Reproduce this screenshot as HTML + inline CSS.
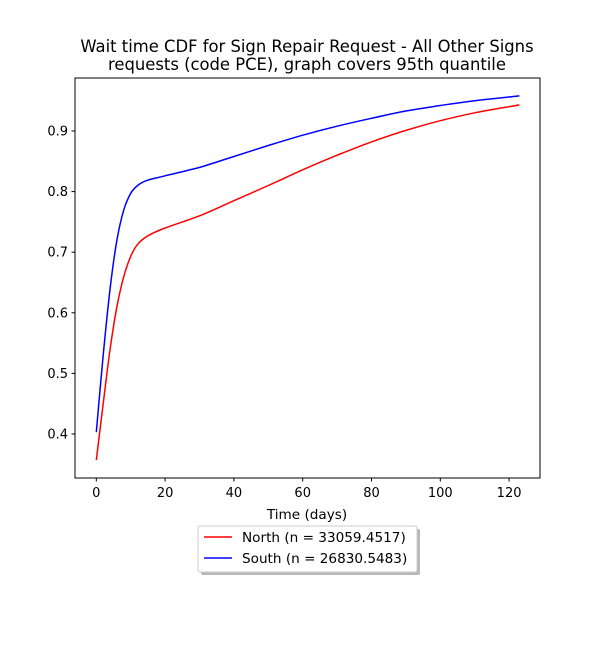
<!DOCTYPE html>
<html><head><meta charset="utf-8"><style>
body{margin:0;background:#fff;font-family:"Liberation Sans","DejaVu Sans",sans-serif}
</style></head><body>
<svg id="chart" width="600" height="650" xmlns="http://www.w3.org/2000/svg" font-family="DejaVu Sans, Liberation Sans, sans-serif">
<rect width="600" height="650" fill="#fff"/>
<text x="307" y="52" text-anchor="middle" font-size="16.4">Wait time CDF for Sign Repair Request - All Other Signs</text>
<text x="307" y="70" text-anchor="middle" font-size="16.4">requests (code PCE), graph covers 95th quantile</text>
<g id="plot"></g>
<rect x="75" y="78" width="465" height="400" fill="none" stroke="#000" stroke-width="1"/>
<text x="307" y="519" text-anchor="middle" font-size="13.6">Time (days)</text>
<g>
<rect x="201" y="529" width="219" height="46" fill="#888" opacity="0.6" rx="2"/>
<rect x="198" y="526" width="219" height="46" fill="#fff" stroke="#ccc" rx="2"/>
<line x1="204" y1="537" x2="232" y2="537" stroke="red" stroke-width="1.5"/>
<text x="242" y="542" font-size="13.6">North (n = 33059.4517)</text>
<line x1="204" y1="558" x2="232" y2="558" stroke="blue" stroke-width="1.5"/>
<text x="242" y="563" font-size="13.6">South (n = 26830.5483)</text>
</g>
</svg>
<script>
const times=[0,2,4,6,8,10,12,15,20,30,40,50,60,70,80,90,100,110,123];
const northValues=[0.357,0.45,0.54,0.61,0.66,0.693,0.713,0.727,0.74,0.76,0.785,0.81,0.836,0.86,0.882,0.901,0.917,0.93,0.943];
const southValues=[0.403,0.53,0.64,0.72,0.77,0.797,0.81,0.819,0.826,0.84,0.858,0.876,0.893,0.908,0.921,0.933,0.942,0.95,0.958];
const xTicks=[0,20,40,60,80,100,120];
const yTicks=[0.4,0.5,0.6,0.7,0.8,0.9];
const NS="http://www.w3.org/2000/svg";
const sx=v=>96.3+v*3.44;
const sy=v=>434-(v-0.4)*606;
const g=document.getElementById('plot');
function mk(t,a){const e=document.createElementNS(NS,t);for(const k in a)e.setAttribute(k,a[k]);g.appendChild(e);return e;}
xTicks.forEach(t=>{
 const l=mk('line',{x1:sx(t),x2:sx(t),y1:478,y2:481.5,stroke:'#000'});
 
 
 const tx=mk('text',{x:sx(t),y:497,'text-anchor':'middle','font-size':13});
 tx.textContent=t;
 
 
});
yTicks.forEach(t=>{
 const l=mk('line',{x1:71.5,x2:75,y1:sy(t),y2:sy(t),stroke:'#000'});
 
 
 const tx=mk('text',{x:68,y:sy(t)+4.5,'text-anchor':'end','font-size':13});
 tx.textContent=t.toFixed(1);
 
 
});
function line(vals,color,name){
 const P=vals.map((v,i)=>[sx(times[i]),sy(v)]);
 let d='M'+P[0][0].toFixed(1)+','+P[0][1].toFixed(1);
 for(let i=0;i<P.length-1;i++){
  const p0=P[i-1]||P[i],p1=P[i],p2=P[i+1],p3=P[i+2]||P[i+1];
  const c1=[p1[0]+(p2[0]-p0[0])/6,p1[1]+(p2[1]-p0[1])/6];
  const c2=[p2[0]-(p3[0]-p1[0])/6,p2[1]-(p3[1]-p1[1])/6];
  d+='C'+c1.map(n=>n.toFixed(1)).join(',')+' '+c2.map(n=>n.toFixed(1)).join(',')+' '+p2.map(n=>n.toFixed(1)).join(',');
 }
 const p=mk('path',{d:d,fill:'none',stroke:color,'stroke-width':1.5,'stroke-linejoin':'round'});
 
 
}
line(northValues,'red','north-line');
line(southValues,'blue','south-line');
</script>
</body></html>
